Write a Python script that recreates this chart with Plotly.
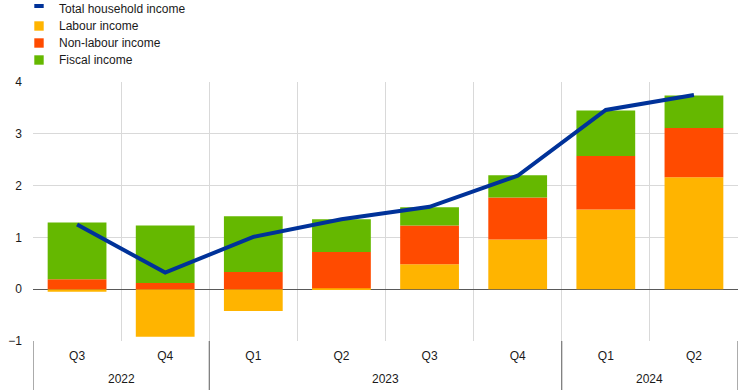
import plotly.graph_objects as go

years = ["2022", "2022", "2023", "2023", "2023", "2023", "2024", "2024"]
quarters = ["Q3", "Q4", "Q1", "Q2", "Q3", "Q4", "Q1", "Q2"]
labour = [-0.05, -0.92, -0.42, 0.02, 0.48, 0.96, 1.54, 2.16]
non_labour = [0.19, 0.12, 0.33, 0.70, 0.75, 0.81, 1.03, 0.95]
fiscal = [1.10, 1.11, 1.08, 0.63, 0.35, 0.43, 0.88, 0.63]
total = [1.25, 0.32, 1.01, 1.35, 1.59, 2.19, 3.46, 3.75]

names = ["Total household income", "Labour income", "Non-labour income", "Fiscal income"]
colors = ["#003299", "#FFB400", "#FF4B00", "#65B800"]

FONT = "Liberation Sans, Arial, sans-serif"
TXT = "#1a1a1a"
idx = list(range(len(quarters)))

fig = go.Figure()
for vals, name, col in zip([labour, non_labour, fiscal], names[1:], colors[1:]):
    fig.add_trace(go.Bar(x=idx, y=vals, name=name, marker=dict(color=col, line=dict(width=0)),
                         width=0.667, showlegend=False))
fig.add_trace(go.Scatter(x=idx, y=total, name=names[0], mode="lines",
                         line=dict(color=colors[0], width=4), showlegend=False))

W, H = 745, 390
L, R, T, B = 33, 7, 82, 49
pw, ph = W - L - R, H - T - B
def px(xp):
    return (xp - L) / pw
def py(yp):
    return (H - B - yp) / ph

# manual legend (paper coordinates)
rows = [9, 26, 43, 60]
for i, (name, col) in enumerate(zip(names, colors)):
    yc = rows[i]
    if i == 0:
        y0, y1 = py(8), py(4)
    else:
        y0, y1 = py(yc + 4.7), py(yc - 4.7)
    fig.add_shape(type="rect", xref="paper", yref="paper",
                  x0=px(34.3), x1=px(43.7), y0=y0, y1=y1,
                  fillcolor=col, line=dict(width=0))
    fig.add_annotation(xref="paper", yref="paper", x=px(56.5), y=py(yc), text=name,
                       showarrow=False, xanchor="left", yanchor="middle",
                       font=dict(family=FONT, size=12, color=TXT))

# year groups: labels and dividers
groups = []
for i, yv in enumerate(years):
    if not groups or groups[-1][0] != yv:
        groups.append([yv, i, i])
    else:
        groups[-1][2] = i
bounds = sorted({g[1] - 0.5 for g in groups} | {g[2] + 0.5 for g in groups})
for b in bounds:
    fig.add_shape(type="line", xref="x", yref="paper", x0=b, x1=b, y0=0, y1=py(H),
                  line=dict(color="#595959", width=1))
for yv, i0, i1 in groups:
    fig.add_annotation(xref="x", yref="paper", x=(i0 + i1) / 2, y=py(378.8), text=yv,
                       showarrow=False, xanchor="center", yanchor="middle",
                       font=dict(family=FONT, size=12, color=TXT))

fig.update_layout(
    width=W, height=H,
    margin=dict(l=L, r=R, t=T, b=B, pad=0),
    barmode="relative",
    paper_bgcolor="white", plot_bgcolor="white",
    font=dict(family=FONT, size=12, color=TXT),
    showlegend=False,
)
fig.update_xaxes(range=[-0.5, len(idx) - 0.5], tickmode="array", tickvals=idx, ticktext=quarters,
                 showgrid=False, ticks="", showline=False, zeroline=False, automargin=False,
                 ticklabelstandoff=6,
                 minor=dict(tickmode="linear", tick0=-0.5, dtick=1, showgrid=True,
                            gridcolor="#d9d9d9", gridwidth=1, ticks=""),
                 tickfont=dict(family=FONT, size=12, color=TXT))
fig.update_yaxes(range=[-1, 4], dtick=1, tick0=0, showgrid=True, gridcolor="#d9d9d9",
                 gridwidth=1, zeroline=True, zerolinecolor="#595959", zerolinewidth=1,
                 ticks="", ticklabelstandoff=10, showline=False, automargin=False,
                 tickfont=dict(family=FONT, size=12, color=TXT))

fig.write_html("out.html", config={"displayModeBar": False},
               post_script="document.body.style.margin='0';document.body.style.overflow='hidden';")
